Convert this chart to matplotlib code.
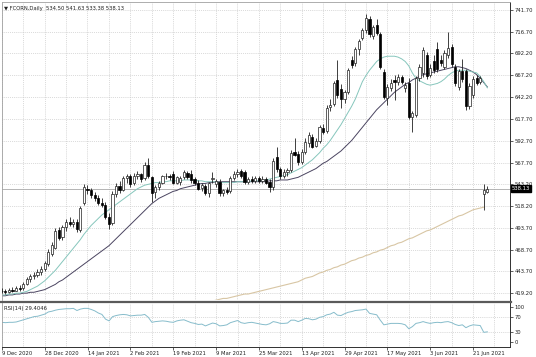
import numpy as np
import matplotlib
matplotlib.use('Agg')
import matplotlib.pyplot as plt
from matplotlib.lines import Line2D

# daily bars, 9 Dec 2020 .. 22 Jun 2021
opens = [421, 422, 420, 423, 422, 425, 425, 430, 435, 438, 440, 443, 447, 452, 464, 471,
         491, 483, 494, 500, 498, 500, 491, 522, 538, 536, 531, 527, 522, 520, 506, 499,
         532, 541, 537, 550, 553, 544, 553, 555, 550, 565, 551, 534, 540, 545, 552, 553,
         555, 545, 546, 551, 556, 555, 549, 545, 539, 541, 533, 549, 543, 546, 533, 536,
         535, 550, 555, 558, 557, 546, 549, 547, 550, 547, 549, 546, 540, 574, 560, 553,
         557, 559, 580, 578, 568, 580, 590, 597, 587, 592, 607, 604, 631, 634, 662, 652,
         640, 648, 685, 681, 697, 710, 719, 731, 712, 725, 714, 671, 641, 653, 662, 660,
         665, 653, 659, 620, 622, 664, 670, 690, 668, 684, 697, 685, 677, 690, 700, 677,
         654, 672, 672, 632, 645, 664, 660, 532, 534.50]
highs = [425, 424, 425, 426, 427, 428, 432, 437, 441, 443, 446, 450, 456, 469, 477, 493,
         494, 497, 504, 506, 503, 504, 518, 543, 542, 539, 534, 531, 527, 523, 510, 535,
         544, 547, 553, 555, 555, 556, 558, 556, 568, 573, 553, 542, 547, 554, 556, 555,
         558, 553, 553, 559, 558, 559, 551, 548, 544, 543, 546, 557, 549, 549, 538, 540,
         552, 558, 560, 561, 559, 551, 552, 552, 553, 552, 551, 549, 573, 586, 563, 560,
         562, 582, 596, 581, 583, 596, 603, 600, 596, 611, 612, 633, 640, 661, 685, 657,
         651, 676, 689, 700, 709, 721, 737, 735, 725, 731, 717, 675, 657, 663, 668, 669,
         668, 660, 664, 627, 667, 680, 699, 694, 680, 690, 705, 690, 696, 717, 703, 680,
         675, 686, 675, 658, 666, 668, 667, 543, 541.63]
lows = [419, 418, 419, 420, 421, 422, 423, 428, 432, 435, 437, 440, 444, 450, 461, 469,
        480, 480, 490, 495, 494, 489, 489, 519, 532, 528, 524, 520, 517, 503, 492, 497,
        529, 533, 535, 544, 540, 542, 549, 546, 548, 550, 523, 528, 537, 543, 549, 548,
        543, 543, 542, 549, 549, 545, 542, 536, 535, 531, 529, 544, 540, 530, 530, 532,
        533, 548, 551, 550, 543, 543, 545, 544, 545, 544, 543, 534, 536, 557, 549, 550,
        553, 557, 575, 565, 566, 578, 586, 584, 585, 590, 600, 602, 627, 632, 641, 630,
        636, 646, 676, 678, 690, 707, 716, 711, 709, 713, 674, 640, 633, 649, 639, 656,
        657, 648, 617, 603, 620, 661, 665, 663, 665, 670, 671, 678, 674, 687, 677, 655,
        650, 660, 628, 629, 641, 656, 657, 514, 533.38]
closes = [422, 420, 423, 422, 425, 424, 430, 435, 438, 440, 443, 447, 453, 466, 474, 490,
          482, 494, 500, 498, 500, 492, 516, 540, 536, 531, 527, 522, 520, 506, 498, 532,
          541, 537, 550, 553, 543, 553, 555, 549, 565, 552, 533, 540, 545, 552, 553, 551,
          545, 551, 550, 557, 551, 548, 544, 538, 542, 533, 544, 550, 547, 533, 536, 534,
          550, 555, 557, 552, 546, 549, 547, 550, 547, 549, 545, 540, 570, 560, 552, 557,
          559, 579, 577, 568, 580, 591, 599, 586, 592, 608, 603, 630, 633, 658, 645, 640,
          648, 673, 679, 697, 706, 719, 732, 714, 722, 716, 677, 643, 654, 658, 660, 665,
          660, 656, 620, 624, 664, 677, 696, 666, 676, 673, 674, 681, 693, 698, 680, 659,
          672, 663, 632, 655, 663, 659, 664, 536, 538.13]

ma_fast = [417, 417, 418, 418, 419, 419, 420, 421, 423, 425, 427, 430, 433, 437, 441, 445,
           450, 455, 460, 465, 470, 475, 480, 486, 491, 496, 500, 504, 508, 511, 514, 517,
           520, 523, 526, 529, 532, 535, 538, 540, 542, 543, 544, 545, 545, 546, 546, 547,
           547, 547, 547, 548, 548, 548, 548, 547, 547, 546, 546, 546, 546, 545, 545, 545,
           545, 545, 546, 546, 546, 546, 547, 547, 547, 547, 548, 549, 550, 551, 552, 553,
           554, 556, 558, 560, 562, 565, 568, 571, 575, 579, 584, 588, 593, 599, 605, 611,
           618, 625, 632, 640, 650, 660, 667, 673, 678, 683, 686, 688, 689, 689, 689, 688,
           686, 683, 678, 670, 664, 661, 659, 657, 656, 657, 658, 660, 663, 667, 670, 672,
           673, 673, 673, 672, 671, 670, 666, 660, 653]
ma_slow = [416, 416, 417, 417, 418, 418, 419, 419, 420, 420, 421, 422, 423, 425, 427, 429,
           432, 434, 437, 440, 443, 446, 449, 452, 455, 458, 461, 464, 467, 470, 473, 477,
           481, 485, 489, 493, 497, 501, 505, 509, 513, 517, 521, 524, 527, 529, 531, 533,
           535, 536, 538, 539, 540, 541, 542, 543, 544, 544, 545, 545, 546, 546, 546, 546,
           546, 546, 546, 546, 546, 546, 546, 546, 546, 546, 546, 547, 547, 547, 548, 548,
           548, 549, 550, 551, 553, 555, 557, 559, 561, 564, 567, 569, 572, 575, 578, 581,
           585, 589, 593, 598, 603, 608, 613, 618, 623, 628, 632, 636, 640, 644, 648, 651,
           654, 657, 659, 662, 664, 666, 668, 669, 670, 671, 672, 673, 674, 675, 676, 677,
           677, 676, 675, 673, 671, 668, 664, 659, 654]
# long average, only drawn from mid-February on
ma_long = [np.nan] * 55 + [
    406, 407, 408, 409, 410, 411, 412, 413, 413, 414, 415, 416, 417, 418, 418, 419,
    420, 421, 422, 423, 424, 425, 426, 427, 428, 429, 430, 431, 432, 434, 436, 437,
    438, 440, 442, 443, 445, 446, 448, 449, 451, 452, 454, 456, 457, 459, 460, 462,
    463, 465, 466, 468, 469, 471, 473, 474, 476, 477, 479, 481, 482, 484, 486, 488,
    490, 491, 493, 495, 497, 499, 501, 503, 505, 507, 508, 510, 512, 514, 515, 516,
    517] + [np.nan]
rsi = [56, 55, 56, 56, 57, 60, 63, 66, 69, 72, 73, 76, 79, 85, 87, 90,
       92, 93, 94, 94, 95, 89, 93, 95, 95, 92, 88, 82, 78, 65, 60, 72,
       75, 77, 78, 77, 74, 75, 76, 76, 78, 70, 56, 58, 59, 60, 59, 57,
       56, 60, 62, 63, 59, 55, 53, 50, 51, 46, 50, 54, 52, 46, 47, 49,
       55, 58, 61, 55, 53, 55, 56, 54, 52, 50, 49, 52, 58, 56, 53, 53,
       54, 62, 62, 58, 62, 67, 66, 63, 65, 70, 72, 77, 79, 84, 76, 75,
       80, 84, 86, 89, 90, 91, 93, 81, 79, 77, 62, 49, 51, 53, 53, 53,
       52, 49, 38, 44, 53, 55, 58, 55, 53, 55, 56, 55, 57, 58, 55, 50,
       47, 49, 41, 46, 49, 48, 47, 28, 29.4046]

date_labels = ['9 Dec 2020', '28 Dec 2020', '14 Jan 2021', '2 Feb 2021', '19 Feb 2021',
               '9 Mar 2021', '25 Mar 2021', '13 Apr 2021', '29 Apr 2021', '17 May 2021',
               '3 Jun 2021', '21 Jun 2021']
price_ticks = [741.70, 716.70, 692.20, 667.20, 642.20, 617.70, 592.70, 567.70,
               543.20, 518.20, 493.70, 468.70, 443.70, 419.20]
rsi_ticks = [100, 70, 30, 0]

W, H = 536, 357
FS = 3.8
grid_kw = dict(color='#c4c4c4', linestyle=(0, (1, 1.5)), linewidth=0.55)

fig = plt.figure(figsize=(W / 100, H / 100), dpi=100)
fig.patch.set_facecolor('white')
ax = fig.add_axes([2 / W, 1 - 300 / H, 508 / W, 298 / H])
ax2 = fig.add_axes([2 / W, 1 - 347 / H, 508 / W, 44 / H])

o = np.array(opens, float)
h = np.array(highs, float)
l = np.array(lows, float)
c = np.array(closes, float)
x = np.arange(len(o))
up = c >= o

# vertical grid every 6 bars, horizontal grid at the price ticks
for a in (ax, ax2):
    for gx in range(0, 143, 6):
        a.axvline(gx, zorder=0, **grid_kw)
for p in price_ticks:
    ax.axhline(p, zorder=0, **grid_kw)
for r in (70, 30):
    ax2.axhline(r, zorder=0, **grid_kw)

# moving averages
ax.plot(np.arange(len(ma_long)), ma_long, color='#d8c6a4', lw=0.8, zorder=2)
ax.plot(np.arange(len(ma_slow)), ma_slow, color='#4a4460', lw=0.7, zorder=2)
ax.plot(np.arange(len(ma_fast)), ma_fast, color='#86c6bc', lw=0.7, zorder=2)

# candles
ax.vlines(x, l, h, color='#202020', lw=0.6, zorder=3)
body_lo = np.minimum(o, c)
body_h = np.maximum(np.abs(c - o), 0.6)
ax.bar(x[up], body_h[up], bottom=body_lo[up], width=0.62, color='white',
       edgecolor='#202020', linewidth=0.5, zorder=4)
ax.bar(x[~up], body_h[~up], bottom=body_lo[~up], width=0.62, color='black',
       edgecolor='black', linewidth=0.5, zorder=4)

# bid line and last price box
last = closes[-1]
ax.axhline(last, color='#a8a8a8', lw=0.6, zorder=1)
ax.annotate(f'{last:.2f}', xy=(1.004, last), xycoords=('axes fraction', 'data'),
            ha='left', va='center', fontsize=FS, color='white', zorder=10,
            annotation_clip=False,
            bbox=dict(boxstyle='square,pad=0.15', facecolor='black', edgecolor='black'))

ax.set_xlim(0.06, 142.35)
ax.set_ylim(411.2, 750.8)
ax.yaxis.tick_right()
ax.set_yticks(price_ticks)
ax.set_yticklabels([f'{p:.2f}' for p in price_ticks])
ax.set_xticks([])
ax.tick_params(axis='y', length=2, width=0.5, pad=1.5, labelsize=FS, colors='#202020')
ax.text(0.004, 0.987, '\u25bc FCORN,Daily  534.50 541.63 533.38 538.13',
        transform=ax.transAxes, ha='left', va='top', fontsize=FS, color='#202020')

# RSI panel
ax2.plot(np.arange(len(rsi)), rsi, color='#86bccb', lw=0.7, zorder=2)
ax2.set_xlim(0.06, 142.35)
ax2.set_ylim(-13, 110)
ax2.yaxis.tick_right()
ax2.set_yticks(rsi_ticks)
ax2.set_yticklabels([str(t) for t in rsi_ticks])
ax2.set_xticks(np.arange(0, 12 * len(date_labels), 12))
ax2.set_xticklabels(date_labels, ha='left')
ax2.tick_params(axis='y', length=2, width=0.5, pad=1.5, labelsize=FS, colors='#202020')
ax2.tick_params(axis='x', length=2, width=0.5, pad=1, labelsize=FS, colors='#202020')
ax2.text(0.004, 0.93, f'RSI(14) {rsi[-1]:.4f}', transform=ax2.transAxes,
         ha='left', va='top', fontsize=FS, color='#202020')

for a in (ax, ax2):
    for s in ('left', 'top'):
        a.spines[s].set_color('#a0a0a0')
        a.spines[s].set_linewidth(0.6)
    a.spines['right'].set_color('#303030')
    a.spines['right'].set_linewidth(0.7)
    a.spines['bottom'].set_color('#303030')
    a.spines['bottom'].set_linewidth(0.7)
ax.spines['bottom'].set_visible(False)
ax2.spines['top'].set_visible(False)

# thick separator between the two panels
fig.add_artist(Line2D([0, 511 / W], [1 - 302 / H, 1 - 302 / H], color='#5a5a5a', lw=1.6))

fig.savefig('out.png', dpi=100, facecolor='white')
